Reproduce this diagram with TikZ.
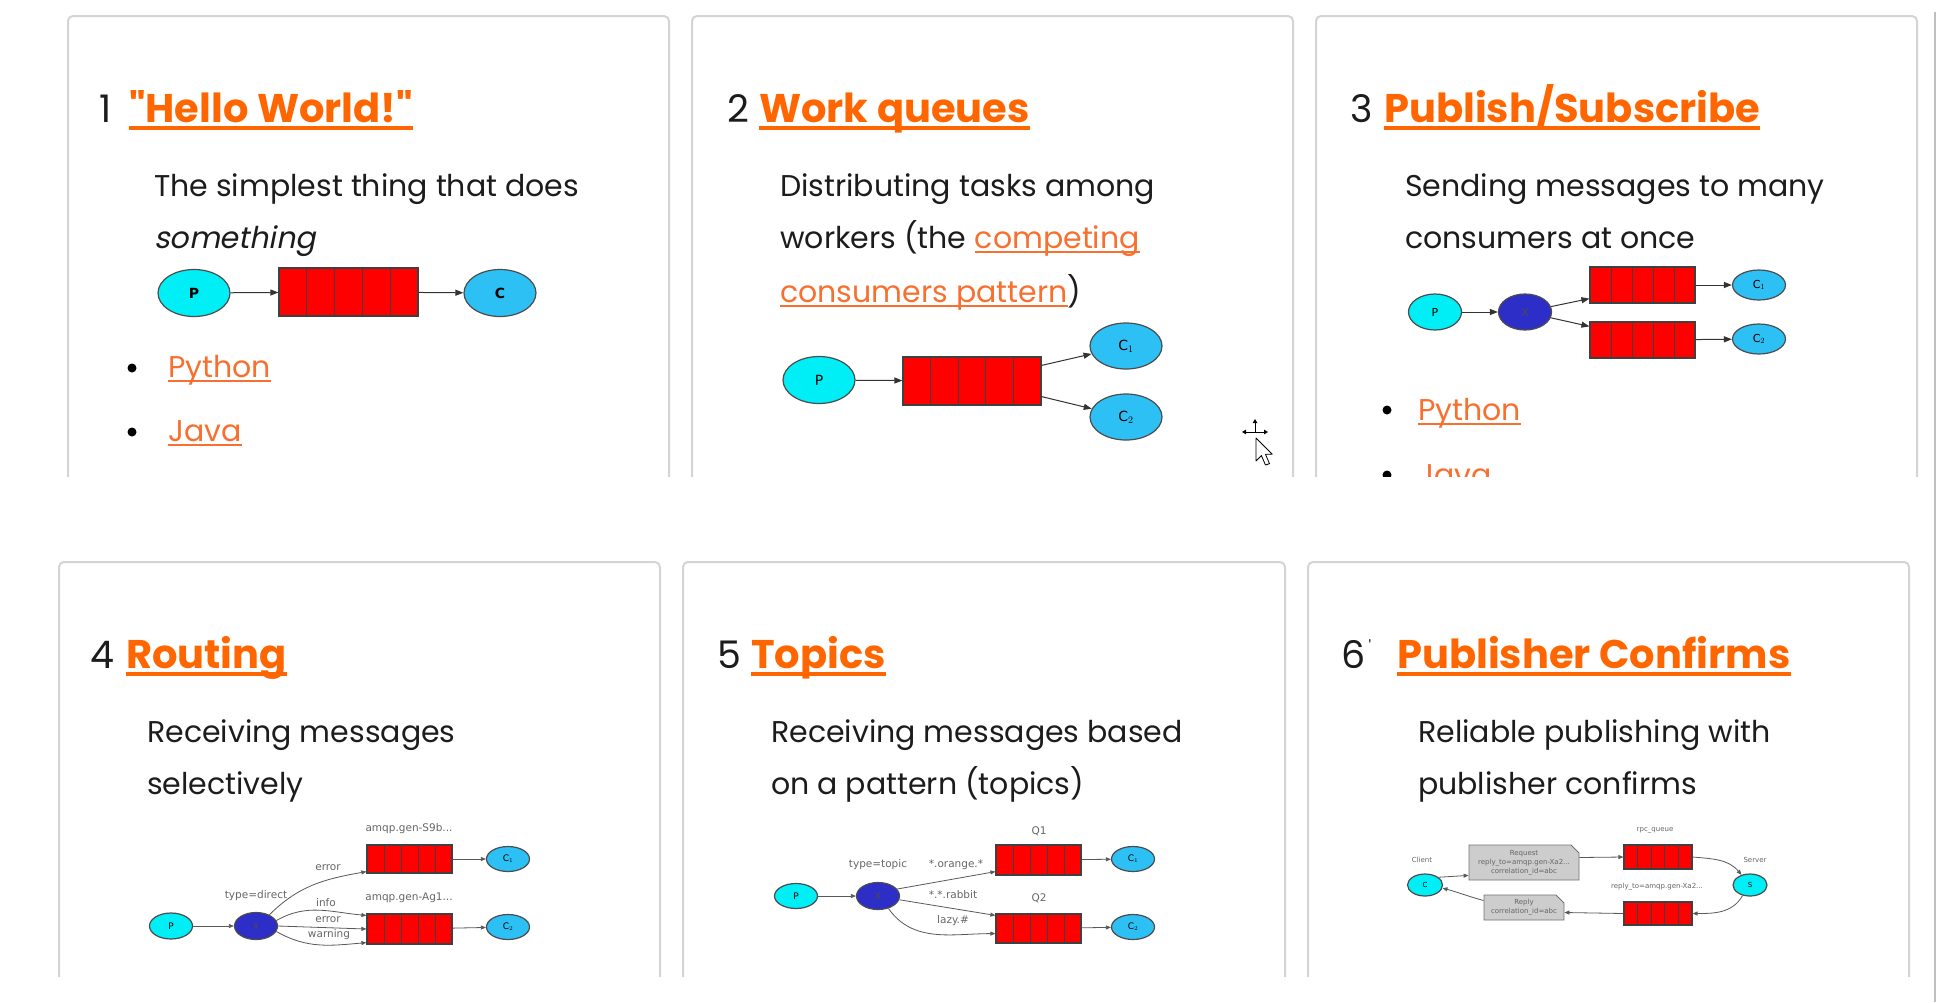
\documentclass[tikz,border=0pt]{standalone}
\usepackage{fontspec}
\setmainfont{Poppins}[AutoFakeSlant=0.2,Ligatures=TeXOff]
\newfontfamily\dfont{DejaVu Sans}
\usetikzlibrary{arrows.meta,shapes.geometric,shapes.misc,calc}
\definecolor{orng}{RGB}{255,102,0}
\definecolor{lnkc}{RGB}{247,112,48}
\definecolor{txt}{RGB}{28,28,28}
\definecolor{frame}{RGB}{212,212,212}
\definecolor{pcol}{RGB}{0,238,245}
\definecolor{ccol}{RGB}{45,192,245}
\definecolor{xcol}{RGB}{45,45,200}
\definecolor{qred}{RGB}{255,0,0}
\definecolor{notec}{RGB}{205,205,205}
\newcommand\dgA{\dfont\fontsize{14}{16}\selectfont}
\newcommand\dgB{\dfont\fontsize{11}{13}\selectfont}
\newcommand\dgC{\dfont\fontsize{9}{10}\selectfont}
\newcommand\dgD{\dfont\fontsize{7}{9}\selectfont}
\newcommand\lblf{\dfont\fontsize{10.5}{12}\selectfont}
\begin{document}
\begin{tikzpicture}[x=1pt,y=-1pt,
  card/.style={draw=frame, line width=2pt, rounded corners=5pt},
  num/.style={anchor=base west, inner sep=0, text=txt, font=\fontsize{38}{44}\selectfont},
  ttl/.style={anchor=base west, inner sep=0, text=orng, font=\fontsize{40}{46}\selectfont\bfseries},
  desc/.style={anchor=base west, inner sep=0, text=txt, font=\fontsize{30}{36}\selectfont},
  lnk/.style={anchor=base west, inner sep=0, text=lnkc, font=\fontsize{30}{36}\selectfont},
  tul/.style={draw=orng, line width=3.5pt},
  lul/.style={draw=lnkc, line width=2pt},
  bdot/.style={circle, fill=black, inner sep=0, minimum size=9pt},
  pn/.style={ellipse, draw=black!70, line width=1.2pt, fill=pcol, inner sep=0},
  cn/.style={ellipse, draw=black!70, line width=1.2pt, fill=ccol, inner sep=0},
  xn/.style={ellipse, draw=black!70, line width=1.2pt, fill=xcol, inner sep=0},
  qb/.style={rectangle, draw=black!75, line width=1.2pt, fill=qred, inner sep=0,
    path picture={\foreach \i in {1,2,3,4}{\draw[black!75, line width=1pt]
      ($(path picture bounding box.north west)!\i/5!(path picture bounding box.north east)$) --
      ($(path picture bounding box.south west)!\i/5!(path picture bounding box.south east)$);}}},
  ar/.style={-{Triangle[length=8pt,width=6pt]}, line width=1pt, draw=black!80},
  sar/.style={-{Triangle[length=5pt,width=4pt]}, line width=0.8pt, draw=black!65},
  lbl/.style={inner sep=0, text=black!60, font=\lblf},
  note/.style={chamfered rectangle, chamfered rectangle corners=north east, chamfered rectangle xsep=4pt, chamfered rectangle ysep=4pt, draw=black!55, line width=0.8pt, fill=notec, inner sep=0, align=center, text=black!60, font=\dgD},
  mv/.style={-{Triangle[length=4pt,width=4.5pt]}, line width=1pt}
]
\useasboundingbox (0,0) rectangle (1938,1002);
\fill[white] (0,0) rectangle (1938,1002);

% ---------- card frames ----------
\draw[card] (68,477) -- (68,16) -- (669,16) -- (669,477);
\draw[card] (692,477) -- (692,16) -- (1293,16) -- (1293,477);
\draw[card] (1316,477) -- (1316,16) -- (1917,16) -- (1917,477);
\draw[card] (59,977) -- (59,562) -- (660,562) -- (660,977);
\draw[card] (683,977) -- (683,562) -- (1285,562) -- (1285,977);
\draw[card] (1308,977) -- (1308,562) -- (1909,562) -- (1909,977);
\draw[draw=black!25, line width=2pt] (1935,12) -- (1935,1002);

% ---------- card 1 ----------
\node[num] (n1) at (99,122) {1};
\node[ttl] (t1) at (129,122) {"Hello World!"};
\draw[tul] ([yshift=-6pt]t1.base west) -- ([yshift=-6pt]t1.base east);
\node[desc] (d11) at (154,196) {The simplest thing that does};
\node[desc] (d12) at (154,248) {\itshape something};
\node[pn, minimum width=72pt, minimum height=47pt, font=\dgA\bfseries] (p1) at (194,293) {P};
\node[qb, minimum width=139pt, minimum height=48pt] (q1) at (348.5,292) {};
\node[cn, minimum width=72pt, minimum height=47pt, font=\dgA\bfseries] (c1) at (500,293) {C};
\draw[ar] (p1) -- (q1);
\draw[ar] (q1) -- (c1);
\node[bdot] (b11) at (132,368) {};
\node[lnk] (l11) at (168,377) {Python};
\draw[lul] ([yshift=-4pt]l11.base west) -- ([yshift=-4pt]l11.base east);
\node[bdot] (b12) at (132,432) {};
\node[lnk] (l12) at (168,441) {Java};
\draw[lul] ([yshift=-4pt]l12.base west) -- ([yshift=-4pt]l12.base east);

% ---------- card 2 ----------
\node[num] (n2) at (727,122) {2};
\node[ttl] (t2) at (759,122) {Work queues};
\draw[tul] ([yshift=-6pt]t2.base west) -- ([yshift=-6pt]t2.base east);
\node[desc] (d21) at (780,196) {Distributing tasks among};
\node[desc] (d22) at (780,248) {workers (the};
\node[lnk] (l21) at ([xshift=8pt]d22.base east) {competing};
\draw[lul] ([yshift=-4pt]l21.base west) -- ([yshift=-4pt]l21.base east);
\node[lnk] (l22) at (780,302) {consumers pattern};
\draw[lul] ([yshift=-4pt]l22.base west) -- ([yshift=-4pt]l22.base east);
\node[desc] (d23) at (l22.base east) {)};
\node[pn, minimum width=72pt, minimum height=47pt, font=\dgA] (p2) at (819,380) {P};
\node[qb, minimum width=138pt, minimum height=48pt] (q2) at (972,381) {};
\node[cn, minimum width=72pt, minimum height=46pt, font=\dgA] (c21) at (1126,346) {C$_1$};
\node[cn, minimum width=72pt, minimum height=46pt, font=\dgA] (c22) at (1126,417) {C$_2$};
\draw[ar] (p2) -- (q2);
\draw[ar] ([yshift=-9pt]q2.north east) -- (c21);
\draw[ar] ([yshift=9pt]q2.south east) -- (c22);
% mouse cursor
\begin{scope}[shift={(1256,438)}, scale=1.35]
  \draw[fill=white, line width=0.8pt, line join=round] (0,0) -- (0,17) -- (4,13) -- (7,20) -- (10,19) -- (7,12) -- (12,12) -- cycle;
\end{scope}
\coordinate (mc) at (1255,432);
\draw[mv] (mc) -- ++(0,-13);
\draw[mv] (mc) -- ++(-13,0);
\draw[mv] (mc) -- ++(13,0);

% ---------- card 3 ----------
\node[num] (n3) at (1350,122) {3};
\node[ttl] (t3) at (1384,122) {Publish/Subscribe};
\draw[tul] ([yshift=-6pt]t3.base west) -- ([yshift=-6pt]t3.base east);
\node[desc] (d31) at (1405,196) {Sending messages to many};
\node[desc] (d32) at (1405,248) {consumers at once};
\node[pn, minimum width=53pt, minimum height=36pt, font=\dgB] (p3) at (1435,312) {P};
\node[xn, minimum width=53pt, minimum height=36pt, font=\dgB, text=black!70] (x3) at (1525,312) {X};
\node[qb, minimum width=105pt, minimum height=36pt] (q31) at (1642.5,285) {};
\node[qb, minimum width=105pt, minimum height=36pt] (q32) at (1642.5,340) {};
\node[cn, minimum width=53pt, minimum height=30pt, font=\dgB] (c31) at (1759,285) {C$_1$};
\node[cn, minimum width=53pt, minimum height=30pt, font=\dgB] (c32) at (1759,339) {C$_2$};
\draw[ar] (p3) -- (x3);
\draw[ar] (x3) -- ([yshift=5pt]q31.south west);
\draw[ar] (x3) -- ([yshift=-5pt]q32.north west);
\draw[ar] (q31) -- (c31);
\draw[ar] (q32) -- (c32);
\node[bdot] (b31) at (1387,410) {};
\node[lnk] (l31) at (1418,420) {Python};
\draw[lul] ([yshift=-4pt]l31.base west) -- ([yshift=-4pt]l31.base east);
\begin{scope}
  \clip (1316,16) rectangle (1917,476);
  \node[bdot] (b32) at (1387,475) {};
  \node[lnk] (l32) at (1418,485) {Java};
\end{scope}

% ---------- card 4 ----------
\node[num] (n4) at (90,668) {4};
\node[ttl] (t4) at (126,668) {Routing};
\draw[tul] ([yshift=-6pt]t4.base west) -- ([yshift=-6pt]t4.base east);
\node[desc] (d41) at (147,742) {Receiving messages};
\node[desc] (d42) at (147,794) {selectively};
\node[pn, minimum width=43pt, minimum height=26pt, font=\dgC] (p4) at (171,926) {P};
\node[xn, minimum width=43pt, minimum height=27pt, font=\dgC, text=black!70] (x4) at (256,926) {X};
\node[qb, minimum width=85pt, minimum height=28pt] (q41) at (409.5,859) {};
\node[qb, minimum width=85pt, minimum height=30pt] (q42) at (409.5,929) {};
\node[cn, minimum width=43pt, minimum height=25pt, font=\dgC] (c41) at (508,859) {C$_1$};
\node[cn, minimum width=43pt, minimum height=25pt, font=\dgC] (c42) at (508,927) {C$_2$};
\draw[sar] (p4) -- (x4);
\draw[sar] (x4.40) to[out=45,in=190] ([yshift=2pt]q41.south west);
\draw[sar] (x4.15) to[out=30,in=175] ([yshift=-2pt]q42.north west);
\draw[sar] (x4.east) -- (q42.west);
\draw[sar] (x4.-15) to[out=-30,in=185] ([yshift=2pt]q42.south west);
\draw[sar] (q41) -- (c41);
\draw[sar] (q42) -- (c42);
\node[lbl] (a41) at (409,829) {amqp.gen-S9b...};
\node[lbl] (a42) at (409,898) {amqp.gen-Ag1...};
\node[lbl] (e41) at (328,868) {error};
\node[lbl] (e42) at (256,896) {type=direct};
\node[lbl] (e43) at (326,903) {info};
\node[lbl] (e44) at (328,920) {error};
\node[lbl] (e45) at (329,935) {warning};

% ---------- card 5 ----------
\node[num] (n5) at (717,668) {5};
\node[ttl] (t5) at (751,668) {Topics};
\draw[tul] ([yshift=-6pt]t5.base west) -- ([yshift=-6pt]t5.base east);
\node[desc] (d51) at (771,742) {Receiving messages based};
\node[desc] (d52) at (771,794) {on a pattern (topics)};
\node[pn, minimum width=43pt, minimum height=25pt, font=\dgC] (p5) at (796,896) {P};
\node[xn, minimum width=43pt, minimum height=27pt, font=\dgC, text=black!70] (x5) at (878,896) {X};
\node[qb, minimum width=85pt, minimum height=30pt] (q51) at (1038.5,860) {};
\node[qb, minimum width=85pt, minimum height=29pt] (q52) at (1038.5,928.5) {};
\node[cn, minimum width=43pt, minimum height=25pt, font=\dgC] (c51) at (1133,859) {C$_1$};
\node[cn, minimum width=43pt, minimum height=25pt, font=\dgC] (c52) at (1133,927) {C$_2$};
\draw[sar] (p5) -- (x5);
\draw[sar] (x5.20) -- ([yshift=4pt]q51.south west);
\draw[sar] (x5.-10) -- ([yshift=-2pt]q52.north west);
\draw[sar] (x5.-50) to[out=-55,in=180] ([yshift=10pt]q52.south west);
\draw[sar] (q51) -- (c51);
\draw[sar] (q52) -- (c52);
\node[lbl] (a51) at (1039,831) {Q1};
\node[lbl] (a52) at (1039,898) {Q2};
\node[lbl] (e51) at (878,865) {type=topic};
\node[lbl] (e52) at (956,865) {*.orange.*};
\node[lbl] (e53) at (953,895) {*.*.rabbit};
\node[lbl] (e54) at (953,921) {lazy.\#};

% ---------- card 6 ----------
\node[num] (n6) at (1341,668) {6};
\node[inner sep=0, anchor=base, text=txt, font=\fontsize{16}{18}\selectfont] (tk6) at (1370,652) {'};
\node[ttl] (t6) at (1397,668) {Publisher Confirms};
\draw[tul] ([yshift=-6pt]t6.base west) -- ([yshift=-6pt]t6.base east);
\node[desc] (d61) at (1418,742) {Reliable publishing with};
\node[desc] (d62) at (1418,794) {publisher confirms};
\node[pn, minimum width=35pt, minimum height=22pt, font=\dgD] (cl) at (1425,885) {C};
\node[pn, minimum width=34pt, minimum height=22pt, font=\dgD] (sv) at (1750,885) {S};
\node[note, minimum width=110pt, minimum height=35pt] (rq) at (1524,862.5) {Request\\reply\_to=amqp.gen-Xa2...\\correlation\_id=abc};
\node[note, minimum width=80pt, minimum height=25pt] (rp) at (1524,907.5) {Reply\\correlation\_id=abc};
\node[qb, minimum width=68pt, minimum height=24pt] (q61) at (1658,857) {};
\node[qb, minimum width=68pt, minimum height=23pt] (q62) at (1658,913.5) {};
\node[lbl, font=\dgD] (a61) at (1422,860) {Client};
\node[lbl, font=\dgD] (a62) at (1755,860) {Server};
\node[lbl, font=\dgD] (a63) at (1655,830) {rpc\_queue};
\node[lbl, font=\dgD] (a64) at (1657,887) {reply\_to=amqp.gen-Xa2...};
\draw[sar] (cl.30) -- ([yshift=5pt]rq.south west);
\draw[sar] ([yshift=5pt]rq.east) -- (q61.west);
\draw[sar] (q61.east) to[out=-5,in=130] (sv.130);
\draw[sar] (sv.235) to[out=-120,in=0] (q62.east);
\draw[sar] (q62.west) -- ([yshift=-5pt]rp.east);
\draw[sar] ([yshift=7pt]rp.west) to[out=165,in=-15] (cl.-10);
\end{tikzpicture}
\end{document}
